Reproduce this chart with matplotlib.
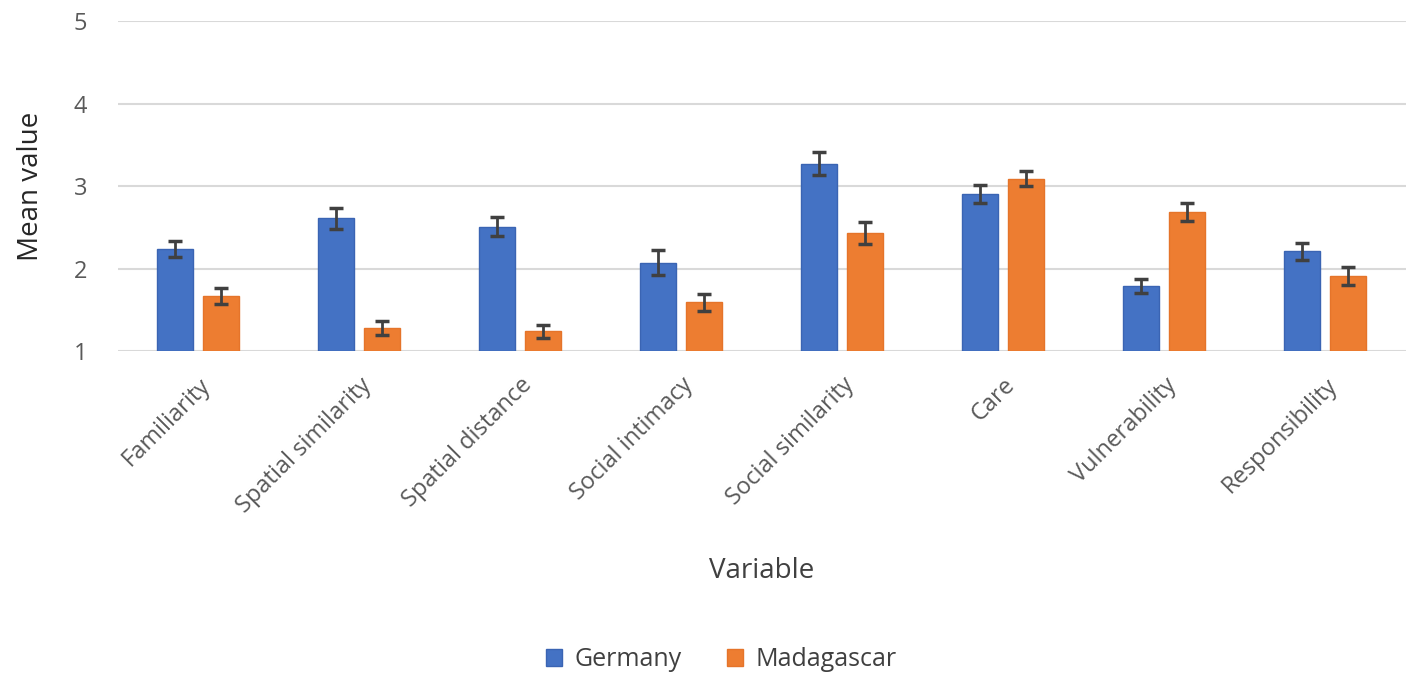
import numpy as np
import matplotlib
matplotlib.use('Agg')
import matplotlib.pyplot as plt

plt.rcParams['font.family'] = ['Open Sans', 'DejaVu Sans']

categories = ['Familiarity', 'Spatial similarity', 'Spatial distance', 'Social intimacy',
              'Social similarity', 'Care', 'Vulnerability', 'Responsibility']
germany = [2.24, 2.61, 2.51, 2.07, 3.27, 2.90, 1.79, 2.21]
germany_err = [0.10, 0.13, 0.12, 0.15, 0.14, 0.11, 0.09, 0.10]
madagascar = [1.67, 1.28, 1.24, 1.59, 2.43, 3.09, 2.69, 1.91]
madagascar_err = [0.10, 0.08, 0.08, 0.10, 0.13, 0.09, 0.11, 0.11]
yticks = [1, 2, 3, 4, 5]

text_col = '#595959'
fig = plt.figure(figsize=(14.17, 6.87), dpi=100)
ax = fig.add_axes([0.083, 0.489, 0.909, 0.48])

x = np.arange(len(categories))
w = 0.225
off = 0.143
base = 1
err_kw = dict(ecolor='#404040', elinewidth=2, capsize=5, capthick=2.5)
ax.bar(x - off, np.array(germany) - base, w, bottom=base, color='#4472C4',
       edgecolor='#3a64b3', linewidth=1, yerr=germany_err, error_kw=err_kw,
       label='Germany', zorder=3)
ax.bar(x + off, np.array(madagascar) - base, w, bottom=base, color='#ED7D31',
       edgecolor='#e5742a', linewidth=1, yerr=madagascar_err, error_kw=err_kw,
       label='Madagascar', zorder=3)

ax.set_xlim(-0.5, len(categories) - 0.5)
ax.set_ylim(1, 5)
ax.set_yticks(yticks)
ax.grid(axis='y', color='#d9d9d9', linewidth=1.5, zorder=0)
for s in ax.spines.values():
    s.set_visible(False)
ax.tick_params(axis='both', length=0, labelsize=17, colors=text_col)
ax.tick_params(axis='y', pad=22)
ax.set_xticks(x)
ax.set_xticklabels(categories, rotation=45, ha='right', rotation_mode='anchor')
ax.tick_params(axis='x', pad=16)
ax.set_ylabel('Mean value', fontsize=20, color='#262626')
ax.yaxis.set_label_coords(-0.056, 0.5)
ax.set_xlabel('Variable', fontsize=20, color='#404040')
ax.xaxis.set_label_coords(0.5, -0.625)

fig.legend(loc='center', bbox_to_anchor=(0.509, 0.04), ncol=2, frameon=False,
           fontsize=18, labelcolor='#404040', handlelength=0.65, handleheight=0.65,
           columnspacing=1.8, handletextpad=0.5)

plt.savefig('out.png', dpi=100)
